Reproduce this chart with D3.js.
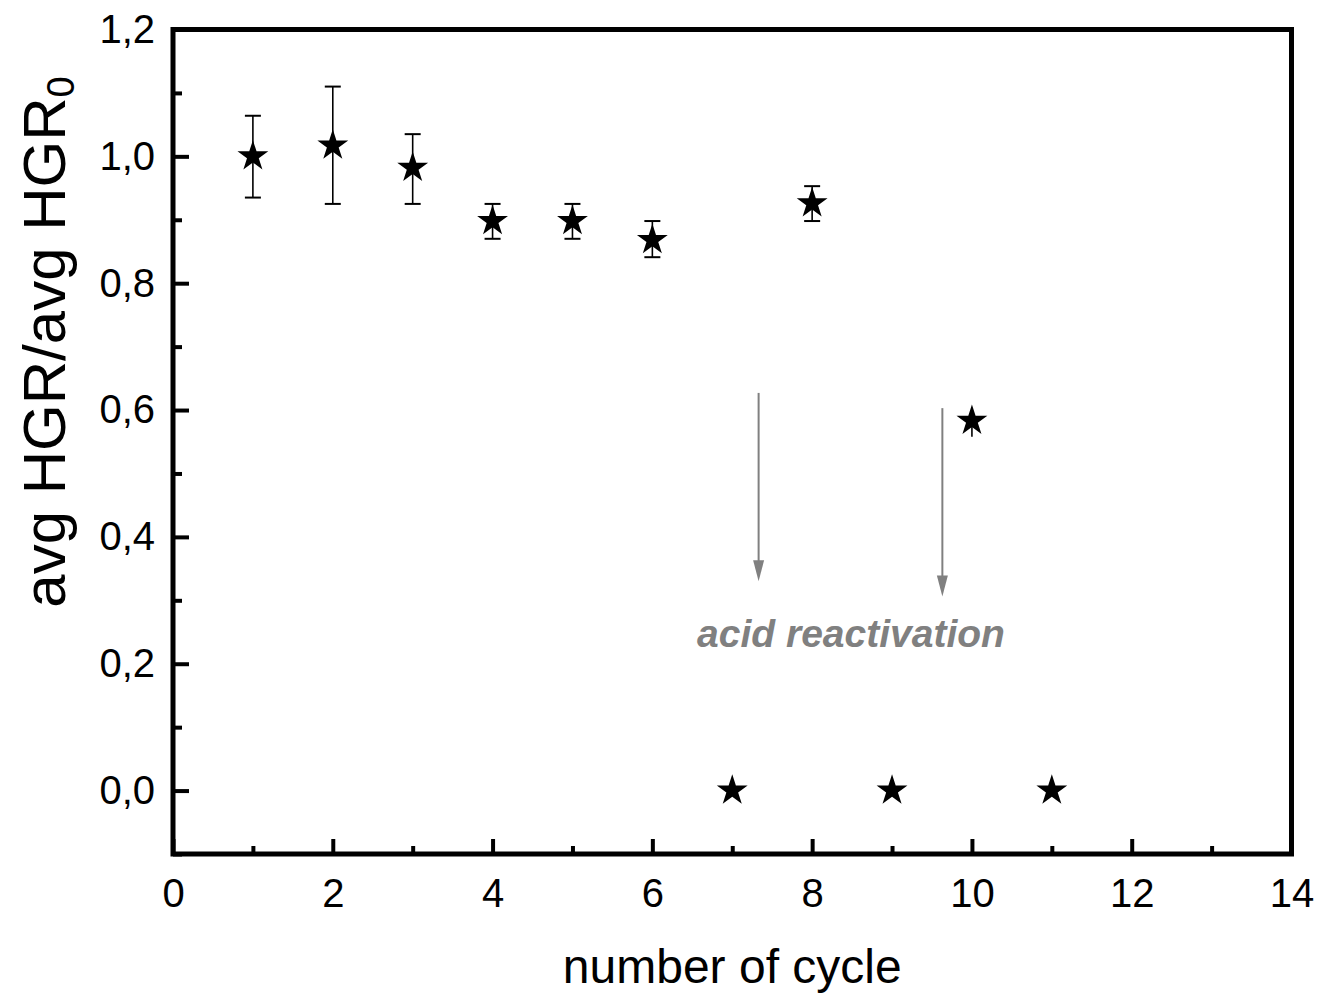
<!DOCTYPE html>
<html>
<head>
<meta charset="utf-8">
<script src="https://cdn.jsdelivr.net/npm/d3@7"></script>
<style>
  body { margin: 0; background: #fff; }
  text { font-family: "Liberation Sans", Arial, sans-serif; }
</style>
</head>
<body>
<div id="chart"></div>
<script>
// data
var cycles   = [1, 2, 3, 4, 5, 6, 7, 8, 9, 10, 11];
var ratio    = [1.000, 1.017, 0.982, 0.898, 0.898, 0.868, 0.0, 0.926, 0.0, 0.583, 0.0];
var errUp    = [0.064, 0.093, 0.053, 0.027, 0.027, 0.030, 0, 0.027, 0, 0.0, 0];
var errDown  = [0.065, 0.092, 0.057, 0.028, 0.028, 0.027, 0, 0.028, 0, 0.025, 0];
var hasCap   = [true, true, true, true, true, true, false, true, false, false, false];

var xTicks = [0, 2, 4, 6, 8, 10, 12, 14];
var xMinor = [1, 3, 5, 7, 9, 11, 13];
var yTicks = [0, 0.2, 0.4, 0.6, 0.8, 1.0, 1.2];
var yMinor = [-0.1, 0.1, 0.3, 0.5, 0.7, 0.9, 1.1];

// acid reactivation arrows (x position, start, tip)
var arrowX   = [7.33, 9.63];
var arrowTop = [0.627, 0.603];
var arrowTip = [0.330, 0.306];

var W = 1322, H = 1008;
var margin = {left: 173, right: 30.5, top: 29.5, bottom: 154};

var svg = d3.select("#chart").append("svg")
  .attr("width", W)
  .attr("height", H);

var x = d3.scaleLinear().domain([0, 14]).range([margin.left, W - margin.right]);
var y = d3.scaleLinear().domain([-0.1, 1.2]).range([H - margin.bottom, margin.top]);

var fmt = d => d3.format(".1f")(d).replace(".", ",");

// bottom axis, ticks inward
svg.append("g")
  .attr("transform", "translate(0," + (H - margin.bottom) + ")")
  .call(d3.axisBottom(x).tickValues(xTicks).tickSize(-15).tickPadding(25).tickFormat(d3.format("d")));
svg.append("g")
  .attr("transform", "translate(0," + (H - margin.bottom) + ")")
  .call(d3.axisBottom(x).tickValues(xMinor).tickSize(-8).tickFormat(""));

svg.append("g")
  .attr("transform", "translate(" + margin.left + ",0)")
  .call(d3.axisLeft(y).tickValues(yTicks).tickSize(-16).tickPadding(18).tickFormat(fmt));
svg.append("g")
  .attr("transform", "translate(" + margin.left + ",0)")
  .call(d3.axisLeft(y).tickValues(yMinor).tickSize(-9).tickFormat(""));

svg.selectAll(".domain").remove();
svg.selectAll(".tick line").attr("stroke", "#000").attr("stroke-width", 4);
svg.selectAll(".tick text").attr("font-size", 40).attr("fill", "#000");

// frame
svg.append("rect")
  .attr("x", x(0))
  .attr("y", y(1.2))
  .attr("width", x(14) - x(0))
  .attr("height", y(-0.1) - y(1.2))
  .attr("fill", "none")
  .attr("stroke", "#000")
  .attr("stroke-width", 5);

// arrows
var grey = "#808080";
arrowX.forEach(function(ax, i) {
  var px = x(ax);
  svg.append("line")
    .attr("x1", px).attr("x2", px)
    .attr("y1", y(arrowTop[i])).attr("y2", y(arrowTip[i]) - 18)
    .attr("stroke", grey).attr("stroke-width", 2);
  svg.append("path")
    .attr("d", "M" + (px - 5.5) + "," + (y(arrowTip[i]) - 21) + "L" + (px + 5.5) + "," + (y(arrowTip[i]) - 21) +
               "L" + px + "," + y(arrowTip[i]) + "Z")
    .attr("fill", grey);
});

svg.append("text")
  .attr("x", x(6.56))
  .attr("y", y(0.227))
  .attr("font-size", 39)
  .attr("font-weight", "bold")
  .attr("font-style", "italic")
  .attr("fill", grey)
  .text("acid reactivation");

// error bars
var pts = cycles.map((c, i) => ({x: c, y: ratio[i], up: errUp[i], dn: errDown[i], cap: hasCap[i]}));

var eb = svg.append("g");
pts.filter(d => d.up > 0 || d.dn > 0).forEach(function(d) {
  var px = x(d.x);
  eb.append("line")
    .attr("x1", px).attr("x2", px)
    .attr("y1", y(d.y + d.up)).attr("y2", y(d.y - d.dn))
    .attr("stroke", "#000").attr("stroke-width", 1.6);
  if (d.cap) {
    [d.y + d.up, d.y - d.dn].forEach(function(v) {
      eb.append("line")
        .attr("x1", px - 8).attr("x2", px + 8)
        .attr("y1", y(v)).attr("y2", y(v))
        .attr("stroke", "#000").attr("stroke-width", 2);
    });
  }
});

// stars
svg.append("g").selectAll("path")
  .data(pts)
  .enter()
  .append("path")
  .attr("transform", d => "translate(" + x(d.x) + "," + y(d.y) + ")")
  .attr("d", d3.symbol(d3.symbolStar, 295))
  .attr("fill", "#000");

// axis titles
svg.append("text")
  .attr("x", (x(0) + x(14)) / 2)
  .attr("y", 983)
  .attr("text-anchor", "middle")
  .attr("font-size", 48)
  .attr("fill", "#000")
  .text("number of cycle");

var yt = svg.append("text")
  .attr("transform", "translate(65,342) rotate(-90)")
  .attr("text-anchor", "middle")
  .attr("font-size", 60)
  .attr("fill", "#000");
yt.append("tspan").text("avg HGR/avg HGR");
yt.append("tspan").attr("font-size", 38).attr("dy", 9).text("0");
</script>
</body>
</html>
